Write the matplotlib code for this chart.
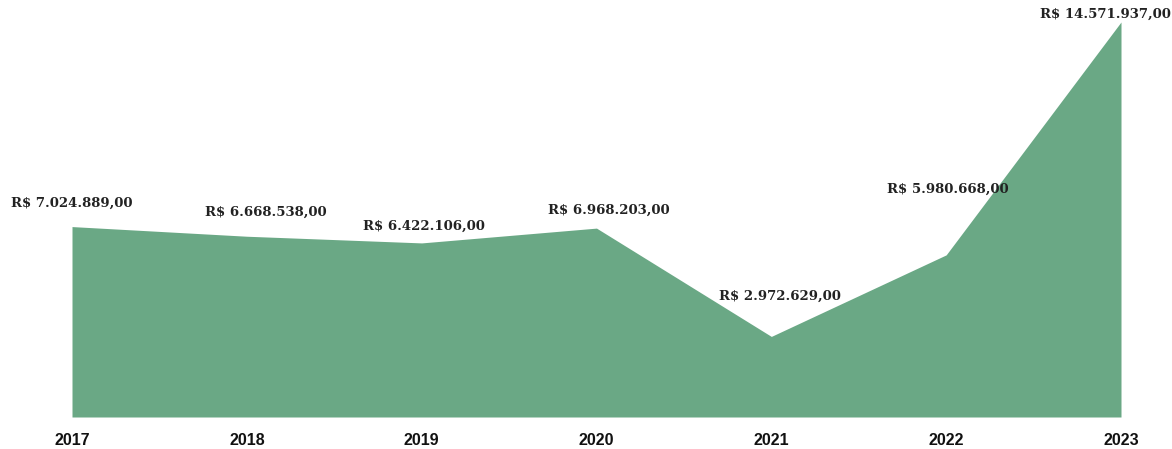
import matplotlib
matplotlib.use("Agg")
import matplotlib.pyplot as plt

years = ["2017", "2018", "2019", "2020", "2021", "2022", "2023"]
values = [7024889.00, 6668538.00, 6422106.00, 6968203.00, 2972629.00, 5980668.00, 14571937.00]
labels = ["R$ 7.024.889,00", "R$ 6.668.538,00", "R$ 6.422.106,00", "R$ 6.968.203,00",
          "R$ 2.972.629,00", "R$ 5.980.668,00", "R$ 14.571.937,00"]

# label offsets in points (dx, dy)
offsets = [(0, 17), (14, 17), (1.5, 12), (9, 13), (6, 29), (1.5, 47), (-11.5, 5.5)]

fig = plt.figure(figsize=(11.72, 4.49), dpi=100)
ax = fig.add_axes([72/1172, 32/449, (1121-72)/1172, (417-22)/449])

x = list(range(len(years)))
ax.fill_between(x, values, 0, color="#6aa885", linewidth=0)
ax.set_xlim(0, len(years) - 1)
ax.set_ylim(0, max(values))

for xi, v, lab, (dx, dy) in zip(x, values, labels, offsets):
    ax.annotate(lab, (xi, v), xytext=(dx, dy), textcoords="offset points",
                ha="center", va="center", fontsize=9.5, fontweight="bold",
                family="DejaVu Serif", color="#222222", annotation_clip=False)

ax.set_xticks(x)
ax.set_xticklabels(years, fontsize=11.5, fontweight="bold", family="Liberation Sans", color="#111111")
ax.tick_params(axis="x", length=0, pad=11.5)
ax.set_yticks([])
for s in ax.spines.values():
    s.set_visible(False)

fig.savefig("out.png", dpi=100)
